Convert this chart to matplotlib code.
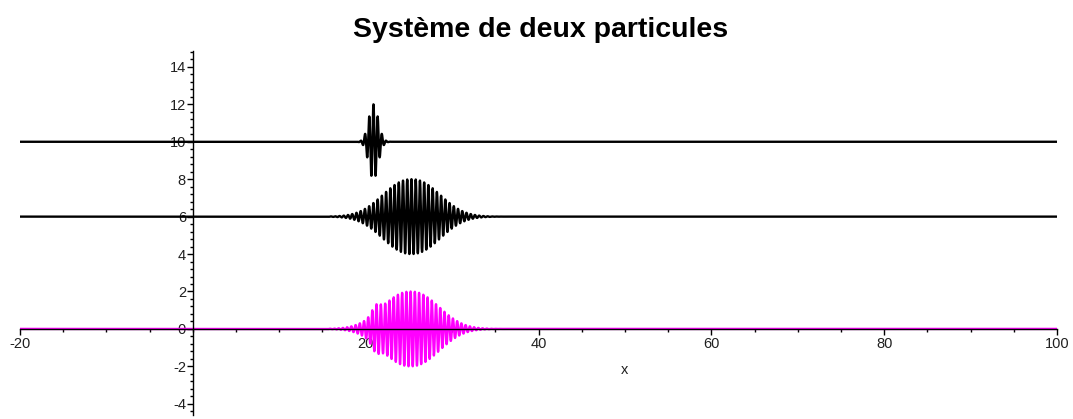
"""Two-particle wave packets, Maple style (axes crossing at origin)."""
import numpy as np
import matplotlib

matplotlib.use("Agg")
import matplotlib.pyplot as plt  # noqa: E402
from matplotlib.ticker import MultipleLocator  # noqa: E402

# packet parameters: one entry per component
# (curve, baseline, amplitude, centre, width, envelope exponent, wavelength)
comp_curve = ["top", "middle", "bottom", "bottom"]
comp_baseline = [10.0, 6.0, 0.0, 0.0]
comp_amplitude = [2.0, 2.0, 0.6, 2.0]
comp_centre = [20.9, 25.3, 21.2, 25.2]
comp_width = [0.55, 3.2, 0.5, 3.2]
comp_shape = [2.0, 2.2, 2.0, 2.2]
comp_wavelength = [0.49, 0.49, 0.49, 0.49]

curve_names = ["top", "middle", "bottom"]
curve_colors = {"top": "black", "middle": "black", "bottom": "#ff00ff"}

x_range = [-20, 100]
y_range = [-4.6, 14.85]
x_ticks = [-20, 20, 40, 60, 80, 100]
y_ticks = [-4, -2, 0, 2, 4, 6, 8, 10, 12, 14]

plt.rcParams["font.family"] = ["Liberation Sans", "DejaVu Sans"]

fig = plt.figure(figsize=(10.73, 4.19), dpi=100)
ax = fig.add_axes([20 / 1073, 4 / 419, 1037 / 1073, 364 / 419])

x = np.linspace(x_range[0], x_range[1], 60000)
for name in curve_names:
    y = np.zeros_like(x)
    base = 0.0
    for c, b, a, m, s, p, w in zip(comp_curve, comp_baseline, comp_amplitude, comp_centre,
                                   comp_width, comp_shape, comp_wavelength):
        if c != name:
            continue
        base = b
        env = np.exp(-np.abs(x - m) ** p / (2 * s ** p))
        y += a * env * np.cos(2 * np.pi * (x - m) / w)
    ax.plot(x, base + y, color=curve_colors[name], lw=1.7, zorder=2)

ax.set_xlim(*x_range)
ax.set_ylim(*y_range)

# axes through the origin
for side in ["top", "right"]:
    ax.spines[side].set_visible(False)
ax.spines["left"].set_position(("data", 0))
ax.spines["bottom"].set_position(("data", 0))
ax.spines["left"].set_zorder(3)
ax.spines["bottom"].set_zorder(3)
ax.spines["left"].set_linewidth(1.0)
ax.spines["bottom"].set_linewidth(1.0)

ax.set_xticks(x_ticks)
ax.set_yticks(y_ticks)
ax.xaxis.set_minor_locator(MultipleLocator(5))
ax.yaxis.set_minor_locator(MultipleLocator(0.4))
ax.tick_params(axis="x", which="major", direction="out", length=4, width=1, labelsize=10.5, pad=2)
ax.tick_params(axis="x", which="minor", direction="out", length=2, width=1)
ax.tick_params(axis="y", which="major", direction="out", length=4, width=1, labelsize=10.5, pad=1)
ax.tick_params(axis="y", which="minor", direction="out", length=2, width=1)
ax.set_xticklabels([str(t) for t in x_ticks], color="#202020")
ax.set_yticklabels([str(t) for t in y_ticks], color="#202020")

ax.text(50, -2.2, "x", ha="center", va="center", fontsize=10.5, color="#202020")
fig.text(541 / 1073, 1 - 30 / 419, "Système de deux particules", ha="center", va="center",
         fontsize=20.5, fontweight="bold")

fig.savefig("out.png", dpi=100)
